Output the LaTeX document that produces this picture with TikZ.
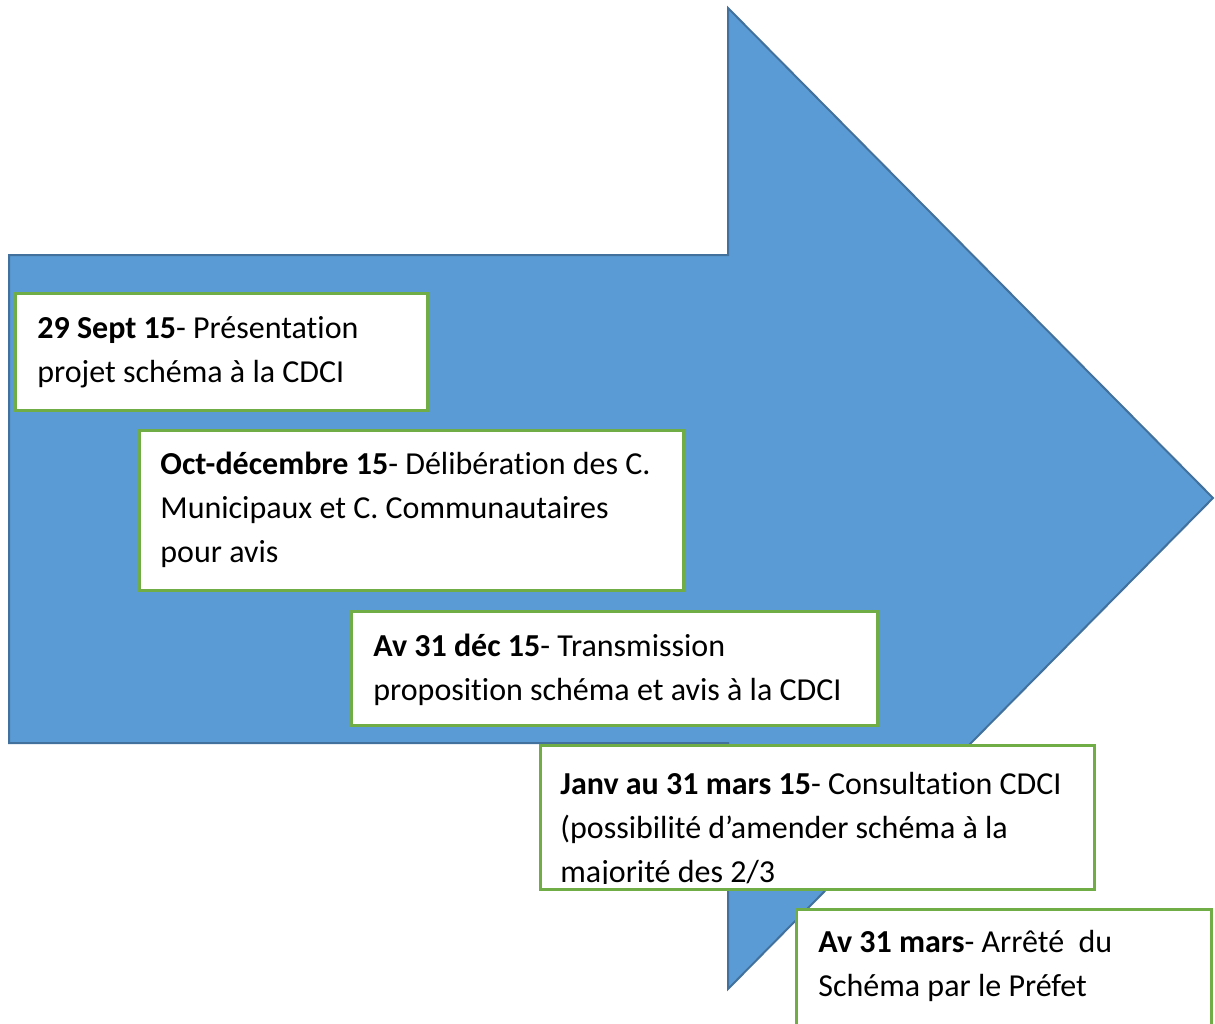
\documentclass[tikz,border=0pt]{standalone}
\usepackage{fontspec}
\setmainfont{Carlito}[Ligatures=NoCommon]
\usetikzlibrary{positioning}
\definecolor{flecheblue}{HTML}{5B9BD5}
\definecolor{flecheedge}{HTML}{41719C}
\definecolor{cadregreen}{HTML}{70AD47}

\begin{document}
\begin{tikzpicture}[x=0.5pt,y=-0.5pt,
    etape/.style={draw=cadregreen,line width=1.5pt,fill=white,
      anchor=north west,inner sep=0pt,outer sep=0pt},
    etapetxt/.style={anchor=base west,align=left,inner sep=0pt,
      font=\fontsize{16}{22}\selectfont}]
  \useasboundingbox (0,0) rectangle (1215,1023);
  % la fleche
  \draw[fill=flecheblue,draw=flecheedge,line width=1pt]
    (9,255) -- (728,255) -- (728,8) -- (1213,498) -- (728,989)
    -- (728,743) -- (9,743) -- cycle;
  % les etapes (texte place sur la ligne de base de la derniere ligne)
  \node[etape,minimum width=206pt,minimum height=58.5pt] (e1) at (15,293) {};
  \node[etapetxt] (t1) at ([shift={(22,89)}]e1.north west)
    {\textbf{29 Sept 15}- Présentation\\projet schéma à la CDCI};
  \node[etape,minimum width=272pt,minimum height=80pt] (e2) at (139,430) {};
  \node[etapetxt] (t2) at ([shift={(21,132)}]e2.north west)
    {\textbf{Oct-décembre 15}- Délibération des C.\\Municipaux et C. Communautaires\\pour avis};
  \node[etape,minimum width=263pt,minimum height=57pt] (e3) at (351,611) {};
  \node[etapetxt] (t3) at ([shift={(22,89)}]e3.north west)
    {\textbf{Av 31 déc 15}- Transmission\\proposition schéma et avis à la CDCI};
  \node[etape,minimum width=277pt,minimum height=72pt] (e4) at (540,745) {};
  \begin{scope}
    \clip (e4.north west) rectangle ([shift={(0,-6)}]e4.south east);
    \node[etapetxt] (t4) at ([shift={(20,137)}]e4.north west)
      {\textbf{Janv au 31 mars 15}- Consultation CDCI\\(possibilité d’amender schéma à la\\majorité des 2/3};
  \end{scope}
  \draw[draw=cadregreen,line width=1.5pt] (e4.north west) rectangle (e4.south east);
  \node[etape,minimum width=207.5pt,minimum height=65.5pt] (e5) at (796,909) {};
  \node[etapetxt] (t5) at ([shift={(22,87)}]e5.north west)
    {\textbf{Av 31 mars}- Arrêté\ \ du\\Schéma par le Préfet};
\end{tikzpicture}
\end{document}
